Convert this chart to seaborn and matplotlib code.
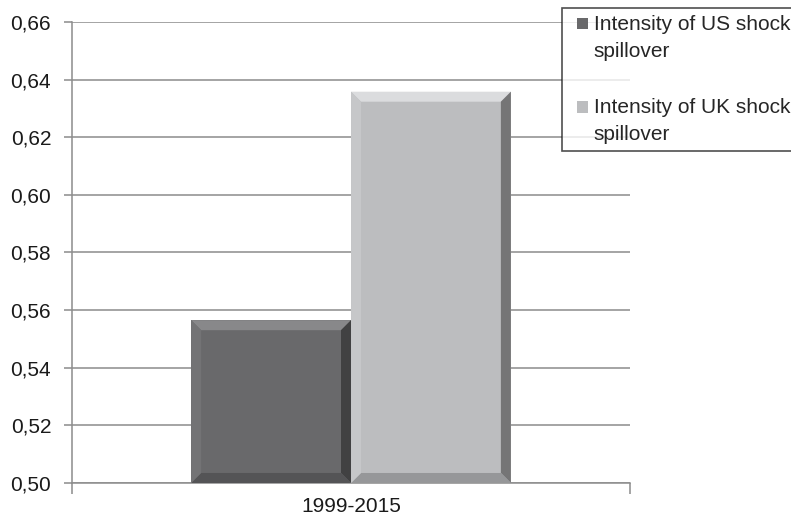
import matplotlib
matplotlib.use('Agg')

import numpy as np
import pandas as pd
import matplotlib.pyplot as plt
import seaborn as sns
from matplotlib.patches import Polygon, Patch, Rectangle
from matplotlib.legend_handler import HandlerPatch
from matplotlib.ticker import FuncFormatter

# data
periods = ['1999-2015']
series = ['Intensity of US shock\nspillover', 'Intensity of UK shock\nspillover']
values = [0.5565, 0.6358]
colors = ['#69696b', '#bcbdbf']
y_ticks = [0.50, 0.52, 0.54, 0.56, 0.58, 0.60, 0.62, 0.64, 0.66]

df = pd.DataFrame({
    'period': periods * len(series),
    'series': series,
    'value': values,
})

sns.set_style('white')
plt.rcParams['font.family'] = ['Liberation Sans', 'DejaVu Sans']

fig = plt.figure(figsize=(7.91, 5.23), dpi=100)
ax = fig.add_axes([0.091, 0.0765, 0.7055, 0.8815])

sns.barplot(data=df, x='period', y='value', hue='series', palette=colors,
            width=0.573, saturation=1, legend=False, ax=ax, zorder=2)

ax.set_ylim(0.50, 0.66)
ax.set_xlim(-0.5, 0.5)
ax.set_yticks(y_ticks)
ax.yaxis.set_major_formatter(FuncFormatter(lambda v, p: f'{v:.2f}'.replace('.', ',')))
ax.grid(axis='y', color='#8c8c8c', linewidth=1.1, zorder=0)
ax.set_axisbelow(True)
ax.set_xlabel('')
ax.set_ylabel('')

for s in ['top', 'right']:
    ax.spines[s].set_visible(False)
for s in ['left', 'bottom']:
    ax.spines[s].set_color('#8c8c8c')
    ax.spines[s].set_linewidth(1.1)

ax.tick_params(axis='y', which='major', length=6, width=1.1, color='#8c8c8c',
               left=True, labelsize=15, labelcolor='#1a1a1a', pad=9)

# end ticks on x axis, category label in the middle
ax.set_xticks([-0.5, 0.0, 0.5], ['', periods[0], ''])
ax.tick_params(axis='x', bottom=True, length=8, width=1.1, color='#8c8c8c',
               labelsize=15, labelcolor='#1a1a1a', pad=2)
xt = ax.get_xaxis().get_major_ticks()
xt[1].tick1line.set_markersize(0)

# bevel effect on each bar
fig.canvas.draw()
inv = ax.transData.inverted()
ymin = ax.get_ylim()[0]
b = 10
for patch, base in zip(ax.patches, colors):
    patch.set_edgecolor('none')
    x0, y0 = ax.transData.transform((patch.get_x(), max(patch.get_y(), ymin)))
    x1, y1 = ax.transData.transform((patch.get_x() + patch.get_width(),
                                     patch.get_y() + patch.get_height()))
    rgb = np.array(matplotlib.colors.to_rgb(base))
    light = np.clip(rgb + 0.12, 0, 1)
    dark = rgb * 0.62
    mid_dark = rgb * 0.8
    faces = [
        ([(x0, y1), (x1, y1), (x1 - b, y1 - b), (x0 + b, y1 - b)], light),
        ([(x1, y1), (x1, y0), (x1 - b, y0 + b), (x1 - b, y1 - b)], dark),
        ([(x0, y0), (x1, y0), (x1 - b, y0 + b), (x0 + b, y0 + b)], mid_dark),
        ([(x0, y0), (x0, y1), (x0 + b, y1 - b), (x0 + b, y0 + b)], np.clip(rgb + 0.04, 0, 1)),
    ]
    for pts, c in faces:
        data_pts = inv.transform(pts)
        ax.add_patch(Polygon(data_pts, closed=True, facecolor=c, edgecolor='none',
                             zorder=3))


# legend marker sits next to the first line of the label
def first_line_patch(legend, orig_handle, xdescent, ydescent, width, height, fontsize):
    side = 0.55 * fontsize
    return Rectangle((-xdescent + width - side, -ydescent + 0.72 * fontsize), side, side)


handles = [Patch(facecolor=c, edgecolor='none') for c in colors]
leg = fig.legend(handles, series, loc='upper left', bbox_to_anchor=(0.711, 0.985),
                 fontsize=15, frameon=True, fancybox=False, handlelength=0.9,
                 handleheight=0.6, handletextpad=0.28, labelspacing=1.8,
                 borderpad=0.33, borderaxespad=0,
                 handler_map={Patch: HandlerPatch(patch_func=first_line_patch)})
for t in leg.get_texts():
    t.set_linespacing(1.52)
leg.get_frame().set_edgecolor('#222222')
leg.get_frame().set_linewidth(1.2)

plt.savefig('out.png', dpi=100)
plt.close()
